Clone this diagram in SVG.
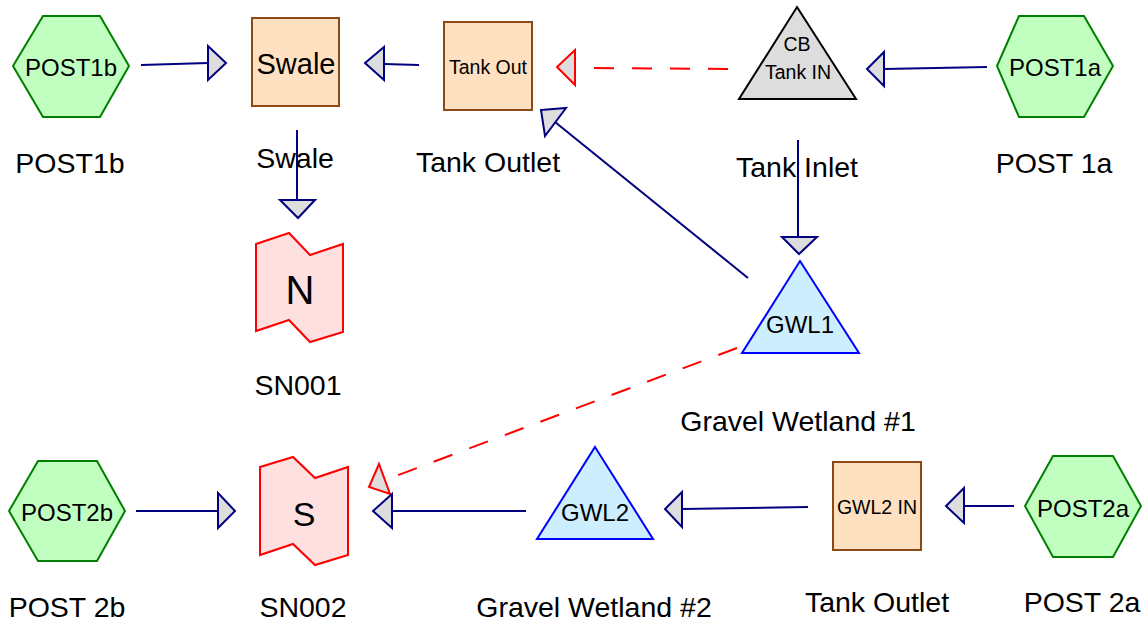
<svg xmlns="http://www.w3.org/2000/svg" width="1148" height="626" viewBox="0 0 1148 626">
  <style>
    text { font-family: "Liberation Sans", Arial, sans-serif; fill: #000; text-anchor: middle; }
    .lbl { font-size: 28.5px; }
    .in24 { font-size: 24px; }
    .in19 { font-size: 19.5px; }
    .hex { fill: #C0FFC0; stroke: #008000; stroke-width: 2; }
    .box { fill: #FFE0C0; stroke: #8B4A14; stroke-width: 2; }
    .cb { fill: #DDDDDD; stroke: #000; stroke-width: 2; }
    .gwl { fill: #CCEEFF; stroke: #0000FF; stroke-width: 2; }
    .sn { fill: #FFE0E0; stroke: #FF0000; stroke-width: 2; }
    .flow { stroke: #000080; stroke-width: 2; fill: none; }
    .flowhead { fill: #DDDDDD; stroke: #000080; stroke-width: 2; stroke-linejoin: miter; }
    .ovf { stroke: #FF0000; stroke-width: 2; fill: none; stroke-dasharray: 20 18; }
    .ovfhead { fill: #DDDDDD; stroke: #FF0000; stroke-width: 2; }
  </style>

  <!-- connectors -->
  <g id="connectors">
    <line class="flow" x1="141" y1="65" x2="208" y2="63"/>
    <polygon class="flowhead" points="208,46 226,63 208,80"/>

    <line class="flow" x1="419" y1="65" x2="384" y2="64"/>
    <polygon class="flowhead" points="384,47 365,63 384,80"/>

    <line class="ovf" x1="728" y1="69" x2="593" y2="68"/>
    <polygon class="ovfhead" points="575,50 557,67 575,85"/>

    <line class="flow" x1="987" y1="67" x2="884" y2="69"/>
    <polygon class="flowhead" points="884,52 867,69 884,86"/>

    <line class="flow" x1="748" y1="278" x2="555" y2="122"/>
    <polygon class="flowhead" points="541,110 566,108 545,136"/>

    <line class="flow" x1="798" y1="140" x2="798" y2="237"/>
    <polygon class="flowhead" points="782,237 817,237 799,254"/>

    <line class="flow" x1="297" y1="130" x2="297" y2="200"/>
    <polygon class="flowhead" points="280,200 315,200 298,218"/>

    <line class="ovf" x1="737" y1="348" x2="393" y2="477"/>
    <polygon class="ovfhead" points="379,464 369,487 390,494"/>

    <line class="flow" x1="136" y1="511" x2="218" y2="511"/>
    <polygon class="flowhead" points="218,493 235,511 218,528"/>

    <line class="flow" x1="526" y1="511" x2="392" y2="511"/>
    <polygon class="flowhead" points="392,494 373,511 392,528"/>

    <line class="flow" x1="808" y1="507" x2="682" y2="509"/>
    <polygon class="flowhead" points="682,492 665,509 682,527"/>

    <line class="flow" x1="1014" y1="506" x2="964" y2="506"/>
    <polygon class="flowhead" points="964,488 946,506 964,523"/>
  </g>

  <!-- nodes -->
  <g id="POST1b">
    <polygon class="hex" points="13,66 43,16 100,16 129,66 100,117 43,117"/>
    <text class="in24" x="71" y="76">POST1b</text>
    <text class="lbl" x="70" y="173">POST1b</text>
  </g>

  <g id="Swale">
    <rect class="box" x="252" y="18" width="87" height="88"/>
    <text x="296" y="74" style="font-size:29px">Swale</text>
    <text class="lbl" x="295" y="168">Swale</text>
  </g>

  <g id="TankOutlet">
    <rect class="box" x="444" y="22" width="88" height="88"/>
    <text class="in19" x="488" y="74">Tank Out</text>
    <text class="lbl" x="488" y="172">Tank Outlet</text>
  </g>

  <g id="TankInlet">
    <polygon class="cb" points="797,7 856,99 739,99"/>
    <text class="in19" x="797" y="51">CB</text>
    <text class="in19" x="798" y="79">Tank IN</text>
    <text class="lbl" x="797" y="177">Tank Inlet</text>
  </g>

  <g id="POST1a">
    <polygon class="hex" points="997,66 1019,16 1084,16 1113,66 1084,117 1019,117"/>
    <text class="in24" x="1055" y="76">POST1a</text>
    <text class="lbl" x="1054" y="173">POST 1a</text>
  </g>

  <g id="SN001">
    <polygon class="sn" points="256,244 289,233 310,255 343,244 343,332 310,342 289,320 256,331"/>
    <text x="300" y="304" style="font-size:40px">N</text>
    <text class="lbl" x="298" y="395">SN001</text>
  </g>

  <g id="GWL1">
    <polygon class="gwl" points="800,261 859,353 742,353"/>
    <text class="in24" x="800" y="333">GWL1</text>
    <text class="lbl" x="798" y="431">Gravel Wetland #1</text>
  </g>

  <g id="POST2b">
    <polygon class="hex" points="9,511 38,461 97,461 125,511 97,561 38,561"/>
    <text class="in24" x="67" y="521">POST2b</text>
    <text class="lbl" x="67" y="617">POST 2b</text>
  </g>

  <g id="SN002">
    <polygon class="sn" points="260,467 293,457 315,478 348,467 348,555 315,565 293,544 260,555"/>
    <text x="304" y="526" style="font-size:34px">S</text>
    <text class="lbl" x="303" y="617">SN002</text>
  </g>

  <g id="GWL2">
    <polygon class="gwl" points="595,447 653,539 537,539"/>
    <text class="in24" x="595" y="521">GWL2</text>
    <text class="lbl" x="594" y="617">Gravel Wetland #2</text>
  </g>

  <g id="GWL2IN">
    <rect class="box" x="833" y="462" width="88" height="88"/>
    <text class="in19" x="877" y="514">GWL2 IN</text>
    <text class="lbl" x="877" y="612">Tank Outlet</text>
  </g>

  <g id="POST2a">
    <polygon class="hex" points="1025,506 1053,456 1113,456 1141,506 1113,557 1053,557"/>
    <text class="in24" x="1083" y="517">POST2a</text>
    <text class="lbl" x="1082" y="612">POST 2a</text>
  </g>
</svg>
